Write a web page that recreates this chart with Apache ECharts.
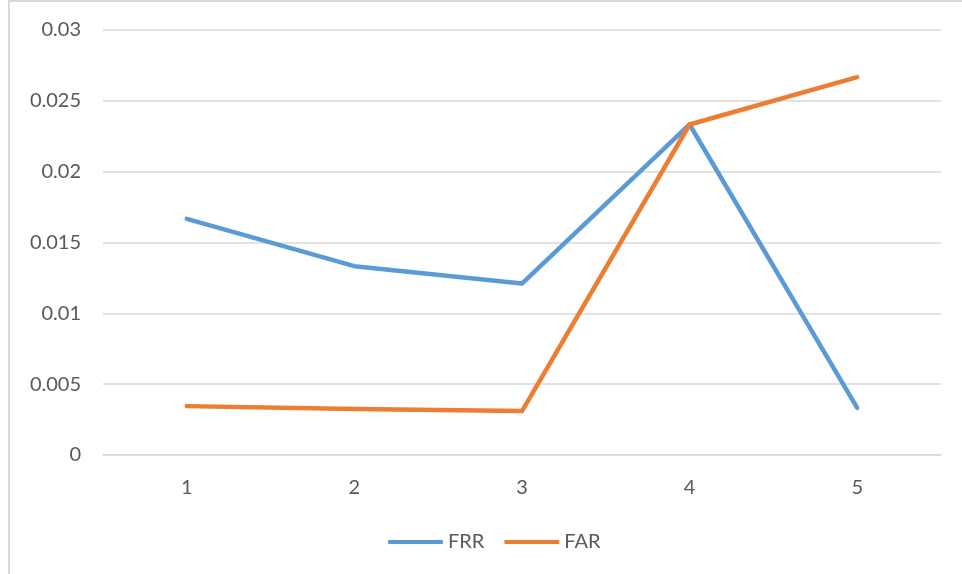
<!DOCTYPE html>
<html><head><meta charset="utf-8">
<script src="https://cdn.jsdelivr.net/npm/echarts@6/dist/echarts.min.js"></script>
<style>html,body{margin:0;padding:0;background:#fff}#c{width:962px;height:574px}</style>
</head><body><div id="c"></div>
<script>
const categories = ['1','2','3','4','5'];
const frr = [0.01667, 0.01333, 0.0121, 0.02333, 0.00333];
const far = [0.00345, 0.00325, 0.0031, 0.02333, 0.02667];
const chart = echarts.init(document.getElementById('c'));
const font = 'Lato, "Open Sans", sans-serif';
chart.setOption({
  animation: false,
  graphic: [{type:'rect', shape:{x:9, y:1, width:1000, height:700}, style:{fill:'none', stroke:'#d9d9d9', lineWidth:2}, silent:true}],
  grid: {left:103, right:21, top:30, bottom:119, containLabel:false},
  legend: {top: 527, left:383, itemWidth:55, itemHeight:4, itemGap:20,
    icon:'roundRect',
    textStyle:{color:'#595959', fontSize:20, fontFamily:font, padding:[0,0,0,0]},
    data:['FRR','FAR']},
  xAxis: {type:'category', data:categories, boundaryGap:true,
    axisLine:{lineStyle:{color:'#d9d9d9', width:1.5}}, axisTick:{show:false},
    axisLabel:{color:'#595959', fontSize:20, fontFamily:font, margin:23}},
  yAxis: {type:'value', min:0, max:0.03, interval:0.005,
    axisLine:{show:false}, axisTick:{show:false},
    splitLine:{lineStyle:{color:'#d9d9d9', width:1.5}},
    axisLabel:{color:'#595959', fontSize:20, fontFamily:font, margin:22,
      formatter: v => String(parseFloat(v.toFixed(3)))}},
  series: [
    {name:'FRR', type:'line', data:frr, showSymbol:false, symbol:'none',
      lineStyle:{color:'#5B9BD5', width:4.5, cap:'round', join:'round'}, itemStyle:{color:'#5B9BD5'}},
    {name:'FAR', type:'line', data:far, showSymbol:false, symbol:'none',
      lineStyle:{color:'#ED7D31', width:4.5, cap:'round', join:'round'}, itemStyle:{color:'#ED7D31'}}
  ]
});
</script></body></html>
